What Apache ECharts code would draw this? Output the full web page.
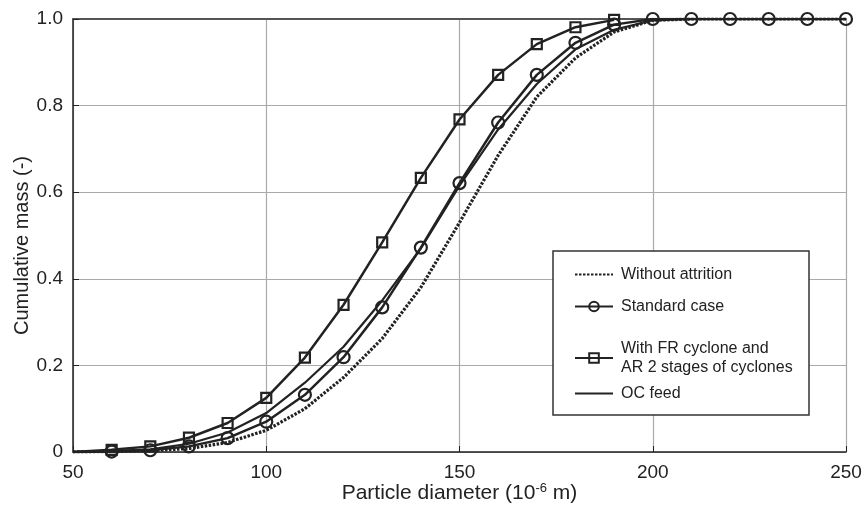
<!DOCTYPE html>
<html>
<head>
<meta charset="utf-8">
<script src="https://cdn.jsdelivr.net/npm/echarts@6/dist/echarts.min.js"></script>
<style>
html,body{margin:0;padding:0;background:#fff;}
#chart{width:865px;height:506px;}
</style>
</head>
<body>
<div id="chart"></div>
<script>
var diameters = [50,60,70,80,90,100,110,120,130,140,150,160,170,180,190,200,210,220,230,240,250];
var withoutAttrition = [0,0.001,0.003,0.008,0.022,0.05,0.1,0.172,0.262,0.38,0.53,0.685,0.82,0.91,0.97,0.997,1,1,1,1,1];
var standardCase = [0,0.001,0.004,0.013,0.032,0.07,0.132,0.219,0.334,0.472,0.621,0.761,0.871,0.945,0.987,1,1,1,1,1,1];
var frCyclone = [0,0.005,0.013,0.033,0.067,0.125,0.218,0.34,0.484,0.633,0.768,0.871,0.942,0.981,0.998];
var ocFeed = [0,0.002,0.006,0.019,0.045,0.09,0.16,0.243,0.35,0.47,0.615,0.745,0.85,0.93,0.975,0.997,1,1,1,1,1];
var xTicks = [50,100,150,200,250];
var yTicks = [0,0.2,0.4,0.6,0.8,1.0];

var names = ['Without attrition','Standard case','With FR cyclone and\nAR 2 stages of cyclones','OC feed'];
var ink = '#222';
var font = 'Liberation Sans, Arial, Helvetica, sans-serif';

function pairs(vals, markFirst){
  return vals.map(function(v,i){
    var p = {value:[diameters[i], v]};
    if (markFirst === false && i === 0) p.symbol = 'none';
    return p;
  });
}

var chart = echarts.init(document.getElementById('chart'), null, {renderer:'canvas'});

var legendTops = [265, 297, 339, 384];
var noSymbol = [true, false, false, true];
var legends = names.map(function(n, i){
  var item = {name:n};
  if (noSymbol[i]) item.itemStyle = {opacity:0};
  return {
    data:[item], left:574, top:legendTops[i], orient:'vertical', z:100,
    itemWidth:38, itemHeight:12, itemGap:0, padding:0,
    textStyle:{fontFamily:font, fontSize:16, color:ink, lineHeight:19, padding:[0,0,0,3]},
    selectedMode:false
  };
});

chart.setOption({
  animation:false,
  backgroundColor:'#fff',
  grid:{left:73, right:19, top:19, bottom:54, containLabel:false, outerBoundsMode:'none'},
  legend: legends,
  graphic:[{
    type:'rect', shape:{x:553, y:251, width:256, height:164},
    style:{fill:'#fff', stroke:'#333', lineWidth:1.5}, z:50
  }],
  xAxis:[{
    type:'value', min:50, max:250, interval:50,
    name:'{a|Particle diameter (10}{s|-6}{a| m)}',
    nameLocation:'middle', nameGap:30, nameMoveOverlap:false,
    nameTextStyle:{rich:{
      a:{fontFamily:font, fontSize:21, color:ink},
      s:{fontFamily:font, fontSize:13, color:ink, verticalAlign:'top', padding:[0,0,9,0]}
    }},
    axisLine:{show:true, lineStyle:{color:ink, width:1.5}},
    axisTick:{show:true, inside:true, length:6, lineStyle:{color:ink, width:1}},
    axisLabel:{fontFamily:font, fontSize:19, color:ink, margin:11,
      formatter:function(v){ return xTicks.indexOf(v)>=0 ? String(v) : ''; }},
    splitLine:{show:true, lineStyle:{color:'#aaa', width:1.2}}
  },{
    type:'value', min:50, max:250, position:'top',
    axisLine:{show:true, lineStyle:{color:'#555', width:2}},
    axisTick:{show:false}, axisLabel:{show:false}, splitLine:{show:false}
  }],
  yAxis:{
    type:'value', min:0, max:1, interval:0.2,
    name:'Cumulative mass (-)', nameLocation:'middle', nameGap:41, nameMoveOverlap:false,
    nameTextStyle:{fontFamily:font, fontSize:20, color:ink, padding:[0,20,0,0]},
    axisLine:{show:true, lineStyle:{color:ink, width:1.5}},
    axisTick:{show:true, inside:true, length:6, lineStyle:{color:ink, width:1}},
    axisLabel:{fontFamily:font, fontSize:19, color:ink, margin:10,
      formatter:function(v){
        var r = Math.round(v*10)/10;
        return r===0 ? '0' : r.toFixed(1);
      }},
    splitLine:{show:true, lineStyle:{color:'#aaa', width:1.2}}
  },
  series:[
    {
      name:names[0], type:'line', data:pairs(withoutAttrition), showSymbol:false, symbol:'none',
      lineStyle:{color:ink, width:3.2, type:[2.5,1.5]}, itemStyle:{color:ink}, z:2
    },
    {
      name:names[1], type:'line', data:pairs(standardCase, false),
      symbol:'circle', symbolSize:12,
      lineStyle:{color:ink, width:2.5},
      itemStyle:{color:'rgba(0,0,0,0)', borderColor:ink, borderWidth:2.2}, z:3
    },
    {
      name:names[2], type:'line', data:pairs(frCyclone, false),
      symbol:'rect', symbolSize:10,
      lineStyle:{color:ink, width:2.5},
      itemStyle:{color:'rgba(0,0,0,0)', borderColor:ink, borderWidth:2.2}, z:4
    },
    {
      name:names[3], type:'line', data:pairs(ocFeed), showSymbol:false, symbol:'none',
      lineStyle:{color:ink, width:2.2}, itemStyle:{color:ink}, z:2
    }
  ]
});
</script>
</body>
</html>
